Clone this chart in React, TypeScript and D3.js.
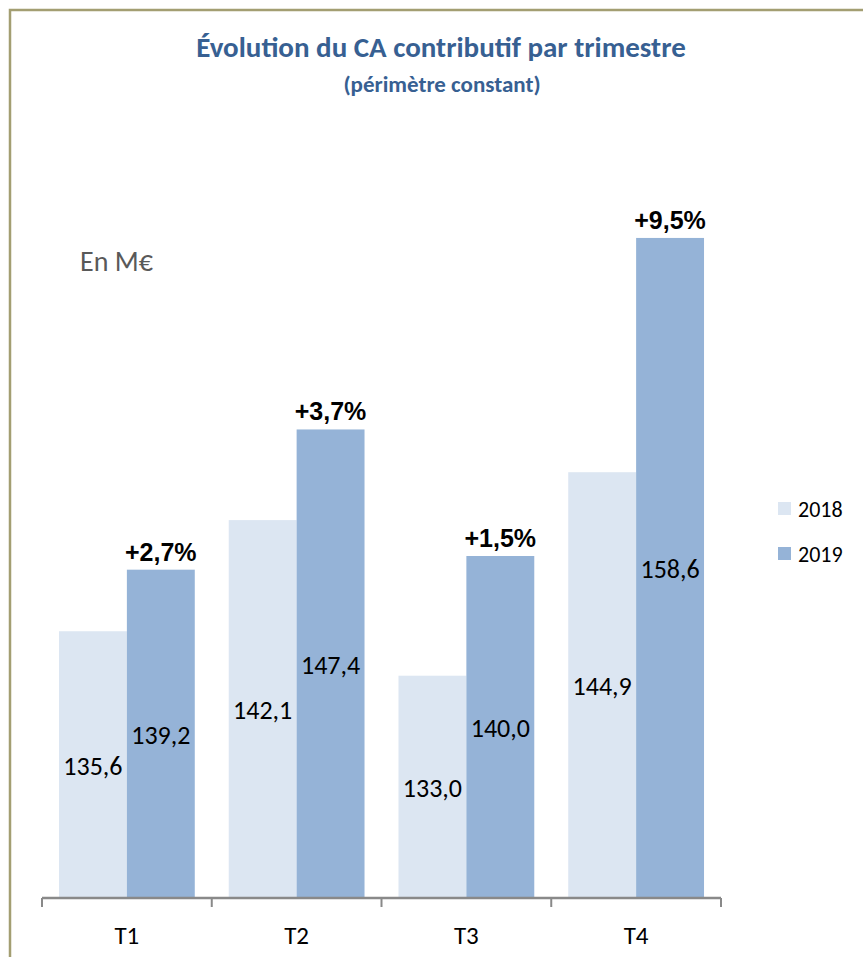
import React from "react";
import * as d3 from "d3";

const quarters = ["T1", "T2", "T3", "T4"];
const series = ["2018", "2019"];
const values2018 = [135.6, 142.1, 133.0, 144.9];
const values2019 = [139.2, 147.4, 140.0, 158.6];
const growth = ["+2,7%", "+3,7%", "+1,5%", "+9,5%"];

const colors = ["#dce6f2", "#95b3d7"];
const font = "Carlito, Calibri, 'Open Sans', 'Liberation Sans', sans-serif";
const fmt = (v: number) => d3.format(".1f")(v).replace(".", ",");

function App() {
  const width = 863;
  const height = 957;
  const x = d3.scaleBand().domain(quarters).range([42, 721]).paddingInner(0).paddingOuter(0);
  const inner = d3.scaleBand().domain(series).range([0, x.bandwidth()]).paddingOuter(0.25).paddingInner(0);
  const y = d3.scaleLinear().domain([120, 160]).range([898, 214]);
  const data = [values2018, values2019];

  return (
    <svg width={width} height={height} style={{ position: "absolute", left: 0, top: 0 }} fontFamily={font}>
      <rect x={0} y={0} width={width} height={height} fill="#fff" />
      <path d="M10,1000 V10 H880" fill="none" stroke="#a39e72" strokeWidth={2.5} />
      <text x={441} y={57} textAnchor="middle" fontSize={29} fontWeight="bold" fill="#376092">
        Évolution du CA contributif par trimestre
      </text>
      <text x={442} y={92} textAnchor="middle" fontSize={23} fontWeight="bold" fill="#376092">
        (périmètre constant)
      </text>
      <text x={80} y={271} fontSize={28} fill="#595959">En M€</text>

      {quarters.map((q, i) =>
        series.map((s, j) => {
          const v = data[j][i];
          const bx = (x(q) ?? 0) + (inner(s) ?? 0);
          const bw = inner.bandwidth();
          const top = y(v);
          return (
            <g key={q + s}>
              <rect x={bx} y={top} width={bw} height={y(120) - top} fill={colors[j]} />
              <text x={bx + bw / 2} y={(top + y(120)) / 2} dy="0.38em" textAnchor="middle" fontSize={26} fill="#000">
                {fmt(v)}
              </text>
              {j === 1 && (
                <text x={bx + bw / 2} y={top - 9} textAnchor="middle" fontSize={25} fontWeight="bold"
                  fontFamily="'Liberation Sans', Arial, sans-serif" fill="#000">
                  {growth[i]}
                </text>
              )}
            </g>
          );
        })
      )}

      <line x1={42} x2={721} y1={898} y2={898} stroke="#898989" strokeWidth={2.5} />
      {[...quarters.map(q => x(q) ?? 0), 721].map((t, i) => (
        <line key={i} x1={t} x2={t} y1={898} y2={907} stroke="#898989" strokeWidth={2} />
      ))}
      {quarters.map(q => (
        <text key={q} x={(x(q) ?? 0) + x.bandwidth() / 2} y={935} dy="0.35em" textAnchor="middle" fontSize={25} fill="#000">
          {q}
        </text>
      ))}

      {series.map((s, j) => (
        <g key={s} transform={`translate(778, ${502 + j * 45})`}>
          <rect x={0} y={0} width={13} height={13} fill={colors[j]} />
          <text x={20} y={7} dy="0.35em" fontSize={22} fill="#000">{s}</text>
        </g>
      ))}
    </svg>
  );
}

export default App;
